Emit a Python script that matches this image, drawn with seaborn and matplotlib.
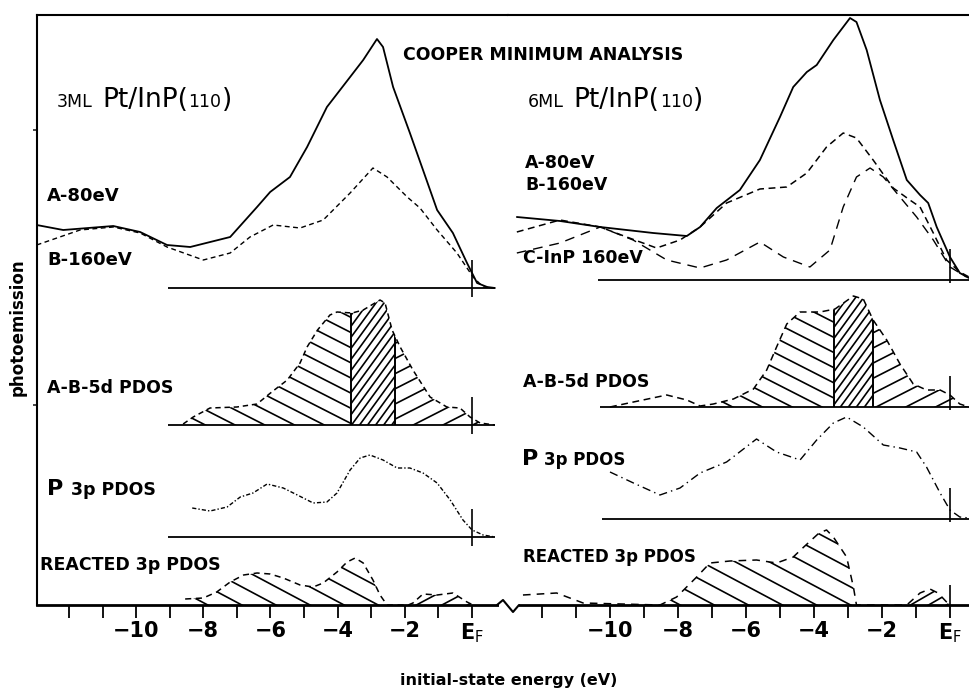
import numpy as np
import pandas as pd
import matplotlib
matplotlib.use("Agg")
import matplotlib.pyplot as plt
import seaborn as sns
from matplotlib.collections import LineCollection
from matplotlib.lines import Line2D
from matplotlib.patches import Rectangle

# ---------------- data ----------------
# 3ML Pt/InP(110) panel : energy (eV) and intensity (arb. units above each baseline)
E_3A = [-12.96, -12.17, -10.68, -9.88, -9.08, -8.39, -7.20, -6.40, -6.01, -5.42, -4.91, -4.32, -3.63,
        -3.24, -2.83, -2.65, -2.35, -1.85, -1.46, -1.04, -0.57, -0.15, 0.15, 0.45, 0.68]
I_3A = [63, 58, 62, 56, 43, 41, 51, 81, 96, 111, 141, 181, 211, 228, 249, 241, 201, 155, 118, 78, 55,
        25, 5, 1, 0]
E_3B = [-12.96, -11.67, -10.68, -9.88, -9.08, -8.0, -7.2, -6.61, -5.92, -5.12, -4.43, -3.63, -2.95,
        -2.53, -1.93, -1.55, -1.04, -0.45, 0.03, 0.33, 0.68]
I_3B = [43, 58, 61, 55, 41, 28, 35, 51, 63, 60, 68, 95, 120, 111, 91, 80, 58, 35, 11, 1, 0]
E_3D = [-8.6, -8.30, -7.80, -7.0, -6.4, -6.0, -5.5, -5.12, -4.91, -4.6, -4.23, -4.02, -3.57, -3.24,
        -2.74, -2.59, -2.38, -2.14, -1.76, -1.25, -0.75, -0.36, -0.06, 0.24, 0.68]
I_3D = [1, 8, 17, 18, 21, 32, 45, 62, 78, 95, 110, 113, 112, 115, 125, 122, 95, 78, 55, 28, 18, 17,
        8, 2, 0]
E_3P = [-8.33, -7.80, -7.29, -6.9, -6.52, -6.1, -5.62, -5.2, -4.73, -4.32, -4.02, -3.63, -3.33, -3.04,
        -2.65, -2.23, -1.85, -1.46, -1.04, -0.65, -0.27, 0.0, 0.33, 0.68]
I_3P = [29, 26, 30, 40, 44, 53, 49, 42, 34, 35, 44, 67, 79, 82, 77, 69, 69, 64, 54, 37, 17, 7, 2, 0]
E_3R = [-8.54, -8.0, -7.6, -7.2, -6.8, -6.4, -6.01, -5.62, -5.12, -4.73, -4.43, -4.02, -3.72, -3.48,
        -3.24, -2.95, -2.74, -2.53, -1.9, -1.76, -1.46, -1.04, -0.57, -0.15, 0.03]
I_3R = [6, 7, 13, 23, 30, 32, 31, 27, 20, 18, 22, 33, 43, 47, 42, 25, 10, 0, 0, 2, 11, 10, 12, 3, 0]

# 6ML Pt/InP(110) panel
E_6A = [-12.74, -11.47, -10.29, -9.51, -8.73, -7.74, -7.35, -6.86, -6.18, -5.59, -5.0, -4.61, -4.21,
        -3.92, -3.43, -2.94, -2.75, -2.45, -2.06, -1.67, -1.27, -0.88, -0.64, -0.39, 0.0, 0.29, 0.56]
I_6A = [63, 59, 53, 50, 47, 44, 53, 72, 90, 120, 163, 193, 208, 215, 240, 262, 258, 230, 180, 140,
        100, 85, 77, 53, 23, 7, 2]
E_6B = [-12.74, -11.47, -10.29, -9.51, -8.63, -7.94, -7.35, -6.57, -5.59, -4.80, -4.21, -3.63, -3.14,
        -2.75, -2.26, -1.67, -1.18, -0.88, -0.49, -0.10, 0.29, 0.56]
I_6B = [48, 60, 53, 43, 32, 40, 53, 77, 91, 93, 107, 133, 147, 142, 120, 92, 80, 73, 47, 20, 8, 3]
E_6C = [-12.74, -11.47, -10.29, -9.32, -8.33, -7.35, -6.57, -5.59, -4.90, -4.12, -3.53, -3.14, -2.75,
        -2.35, -1.96, -1.47, -0.98, -0.49, 0.0, 0.49]
I_6C = [27, 37, 53, 40, 20, 12, 20, 38, 23, 13, 30, 73, 103, 112, 103, 83, 63, 40, 13, 3]
E_6D = [-10.0, -9.31, -8.33, -7.74, -7.35, -6.96, -6.37, -5.78, -5.39, -5.10, -4.80, -4.41, -3.82,
        -3.38, -2.84, -2.55, -2.26, -1.86, -1.47, -1.08, -0.69, -0.29, 0.0, 0.29, 0.56]
I_6D = [0, 5, 12, 7, 1, 3, 8, 18, 37, 60, 83, 95, 95, 98, 111, 108, 87, 67, 43, 23, 17, 17, 12, 3, 0]
E_6P = [-10.0, -9.31, -8.53, -7.94, -7.35, -6.57, -5.69, -5.10, -4.41, -3.92, -3.43, -3.04, -2.55,
        -1.96, -1.47, -0.98, -0.69, -0.29, 0.0, 0.29, 0.56]
I_6P = [47, 36, 24, 31, 46, 57, 80, 67, 59, 79, 96, 102, 92, 74, 71, 67, 52, 26, 9, 2, 1]
E_6R = [-12.56, -11.57, -10.79, -8.53, -8.04, -7.45, -7.06, -6.47, -5.69, -5.10, -4.61, -4.30, -3.85,
        -3.63, -3.43, -3.04, -2.84, -2.75, -1.27, -0.88, -0.59, -0.35, -0.10, 0.0]
I_6R = [10, 12, 2, 0, 8, 28, 42, 44, 45, 42, 48, 58, 72, 75, 68, 48, 18, 0, 0, 12, 16, 12, 3, 0]

TICKS = [-10, -8, -6, -4, -2, 0]
TICK_LABELS = ['\u221210', '\u22128', '\u22126', '\u22124', '\u22122', 'E$_{\\rm F}$']

# ---------------- figure layout ----------------
sns.set_style("white")
plt.rcParams['font.family'] = ['DejaVu Sans']
W, H = 969, 692
fig = plt.figure(figsize=(W / 100, H / 100), dpi=100)


def frect(x0, y0, x1, y1):
    return [x0 / W, 1 - y1 / H, (x1 - x0) / W, (y1 - y0) / H]


axL = fig.add_axes(frect(37, 15, 508, 605))
axR = fig.add_axes(frect(508, 15, 969, 605))
axL.set_xlim(-12.95, 1.07)
axR.set_xlim(-13.0, 0.56)
for ax in (axL, axR):
    ax.set_ylim(0, 590)
    ax.set_facecolor('white')

# baselines (vertical offsets of the stacked spectra)
BL = dict(top=317, d=180, p=68, r=0)
BR = dict(top=325, d=198, p=86, r=0)


def curve(ax, E, I, base, ls, lw=1.2):
    df = pd.DataFrame({'E': E, 'y': np.asarray(I, float) + base})
    sns.lineplot(data=df, x='E', y='y', ax=ax, color='black', lw=lw, sort=False,
                 estimator=None, legend=False)
    ax.lines[-1].set_linestyle(ls)


def add_hatch(ax, path, x0, x1, angle, spacing, lw=1.2):
    """Straight hatch lines limited to the strip x0..x1 and clipped to the filled area."""
    T = ax.transData
    v = T.transform(path.vertices)
    lo, hi = v.min(0), v.max(0)
    c = (lo + hi) / 2
    R = np.hypot(*(hi - lo)) + 10
    X0, X1 = T.transform([[x0, 0], [x1, 0]])[:, 0]
    th = np.deg2rad(angle)
    d = np.array([np.cos(th), np.sin(th)])
    n = np.array([-d[1], d[0]])
    segs = []
    for k in np.arange(-R, R, spacing):
        p = c + n * k
        ta, tb = sorted([(X0 - p[0]) / d[0], (X1 - p[0]) / d[0]])
        segs.append(T.inverted().transform(np.array([p + d * ta, p + d * tb])))
    lc = LineCollection(segs, colors='black', linewidths=lw)
    ax.add_collection(lc, autolim=False)
    lc.set_clip_path(path, T)


def hatched(ax, E, I, base, specs, dividers=()):
    poly = ax.fill_between(E, base, np.asarray(I, float) + base, facecolor='none',
                           edgecolor='none', lw=0)
    path = poly.get_paths()[0]
    for s in specs:
        add_hatch(ax, path, *s)
    for x in dividers:
        ln = ax.axvline(x, color='black', lw=1.4)
        ln.set_clip_path(path, ax.transData)


# ---- left (3ML) panel ----
SP, DN, RS = 13.5, 6.5, 16
for key in ('top', 'd', 'p'):
    axL.hlines(BL[key], -9.05, 0.68, color='black', lw=1.3)
    axL.vlines(0, BL[key] - 9, BL[key] + 28, color='black', lw=1.2)
curve(axL, E_3A, I_3A, BL['top'], '-', 1.3)
curve(axL, E_3B, I_3B, BL['top'], (0, (3.5, 2.5)), 1.0)
hatched(axL, E_3D, I_3D, BL['d'],
        [(-9, -3.61, -27, SP), (-3.61, -2.29, 54, DN), (-2.29, 1, 27, SP)], (-3.61, -2.29))
curve(axL, E_3D, I_3D, BL['d'], (0, (3.5, 2.5)), 1.1)
curve(axL, E_3P, I_3P, BL['p'], (0, (3, 1.5, 1, 1.5)), 1.0)
hatched(axL, E_3R, I_3R, BL['r'], [(-9, -2.2, -28, RS), (-2.2, 1, 28, 12)])
curve(axL, E_3R, I_3R, BL['r'], (0, (4, 3)), 1.1)

# ---- right (6ML) panel ----
for key, x0 in (('top', -10.35), ('d', -10.3), ('p', -10.24)):
    axR.hlines(BR[key], x0, 0.6, color='black', lw=1.3)
    axR.vlines(0, BR[key] - 3, BR[key] + 31, color='black', lw=1.2)
axR.vlines(0, 0, 20, color='black', lw=1.2)
curve(axR, E_6A, I_6A, BR['top'], '-', 1.3)
curve(axR, E_6B, I_6B, BR['top'], (0, (4.5, 3)), 1.1)
curve(axR, E_6C, I_6C, BR['top'], (0, (7, 5)), 1.0)
hatched(axR, E_6D, I_6D, BR['d'],
        [(-7.0, -3.40, -27, SP), (-3.40, -2.26, 54, DN), (-2.26, 1, 27, SP)], (-3.40, -2.26))
curve(axR, E_6D, I_6D, BR['d'], (0, (4.5, 3)), 1.1)
curve(axR, E_6P, I_6P, BR['p'], (0, (6, 3, 1, 3)), 1.0)
hatched(axR, E_6R, I_6R, BR['r'], [(-9, -2.5, -28, RS), (-2.5, 1, 30, 9)])
curve(axR, E_6R, I_6R, BR['r'], (0, (5, 4)), 1.1)

# ---- axes styling ----
for ax in (axL, axR):
    ax.set_xlabel('')
    ax.set_ylabel('')
    ax.set_xticks(TICKS)
    ax.set_xticklabels(TICK_LABELS)
    ax.set_xticks(np.arange(-12, 1, 1), minor=True)
    ax.tick_params(axis='x', which='both', direction='out', length=9.5, width=1.3, pad=2,
                   labelsize=15, bottom=True, colors='black')
    for t in ax.get_xticklabels():
        t.set_fontweight('bold')
    ax.spines['top'].set_linewidth(1.5)
    ax.spines['bottom'].set_linewidth(2.0)
    ax.spines['right'].set_visible(False)
    for s in ax.spines.values():
        s.set_color('black')
axR.spines['left'].set_visible(False)
axR.set_yticks([])
axL.spines['left'].set_linewidth(1.5)
axL.set_yticks([475, 200])
axL.set_yticklabels(['', ''])
axL.tick_params(axis='y', left=True, direction='out', length=3, width=1.2)

# axis break on the bottom line
fig.add_artist(Rectangle((499 / W, 1 - 609 / H), 20 / W, 8 / H, transform=fig.transFigure,
                         facecolor='white', edgecolor='none', zorder=5))
zx = np.array([497, 503, 513, 519]) / W
zy = 1 - np.array([605, 600, 612, 605]) / H
fig.add_artist(Line2D(zx, zy, color='black', lw=1.5, transform=fig.transFigure, zorder=6))

# ---------------- text ----------------
renderer = fig.canvas.get_renderer()


def rich(x, y, parts):
    for s, size, weight, gap in parts:
        t = fig.text(x / W, 1 - y / H, s, fontsize=size, fontweight=weight, va='baseline',
                     ha='left', color='black')
        x += t.get_window_extent(renderer).width + gap


def label(x, y, s, size=12.5, weight='bold'):
    fig.text(x / W, 1 - y / H, s, fontsize=size, fontweight=weight, va='baseline', ha='left',
             color='black')


label(403, 60, 'COOPER MINIMUM ANALYSIS', 12.5)
rich(57, 107, [('3ML', 12.5, 'normal', 10), ('Pt/InP(', 19, 'normal', 0),
               ('110', 12.5, 'normal', 0), (')', 19, 'normal', 0)])
rich(528, 107, [('6ML', 12.5, 'normal', 10), ('Pt/InP(', 19, 'normal', 0),
                ('110', 12.5, 'normal', 0), (')', 19, 'normal', 0)])
label(47, 201, 'A-80eV', 13)
label(47, 265, 'B-160eV', 13)
label(47, 393, 'A-B-5d PDOS', 12.5)
rich(47, 495, [('P', 16, 'bold', 8), ('3p PDOS', 12.5, 'bold', 0)])
label(40, 570, 'REACTED 3p PDOS', 12.5)
label(525, 168, 'A-80eV', 12.5)
label(525, 190, 'B-160eV', 12.5)
label(523, 263, 'C-InP 160eV', 12.5)
label(523, 387, 'A-B-5d PDOS', 12.5)
rich(522, 465, [('P', 16, 'bold', 6), ('3p PDOS', 12, 'bold', 0)])
label(523, 562, 'REACTED 3p PDOS', 12)

fig.text(18 / W, 1 - 327 / H, 'photoemission', rotation=90, fontsize=12, fontweight='bold',
         ha='center', va='center', color='black')
fig.text(509 / W, 1 - 680 / H, 'initial-state energy (eV)', fontsize=11.5, fontweight='bold',
         ha='center', va='center', color='black')

fig.savefig('out.png', dpi=100, facecolor='white')
